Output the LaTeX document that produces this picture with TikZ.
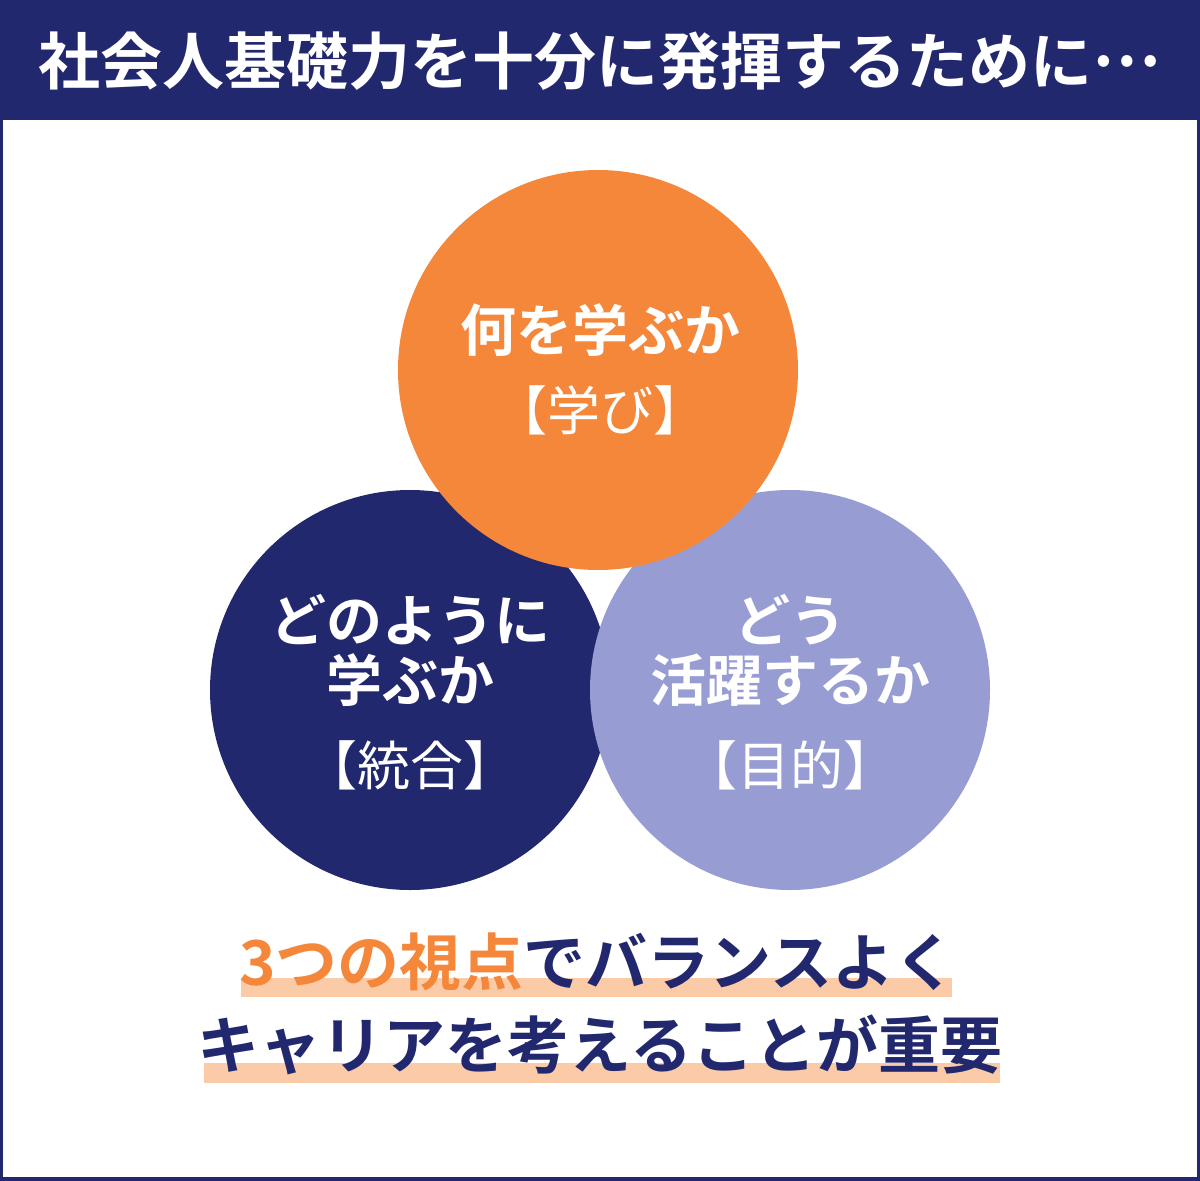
\documentclass[tikz,border=0pt]{standalone}
\usepackage{fontspec}
\setmainfont{Noto Sans CJK JP}[BoldFont={* Bold}]
\usepackage[outline]{contour}
\usetikzlibrary{positioning}
\definecolor{cNavy}{HTML}{22286E}
\definecolor{cOrange}{HTML}{F5873A}
\definecolor{cLavender}{HTML}{979DD3}
\definecolor{cBand}{HTML}{FBCBA8}
\contourlength{3pt}
\tikzset{
  viewcircle/.style={
    circle, fill=#1, minimum size=400pt, inner sep=0pt
  },
  viewhead/.style={
    font=\fontsize{56}{64}\selectfont\bfseries, text=white,
    align=center, inner sep=0pt
  },
  viewtag/.style={
    font=\fontsize{53}{60}\selectfont, text=white, inner sep=0pt
  },
  closing/.style={
    font=\fontsize{62}{70}\selectfont\bfseries, text=cNavy, inner sep=0pt
  },
}

\begin{document}
\begin{tikzpicture}[x=1pt, y=-1pt]
\useasboundingbox (0,0) rectangle (1200,1181);

% ---- frame ----
\fill[cNavy] (0,0) rectangle (1200,1181);
\fill[white] (3,120) rectangle (1197,1177);
\node[font=\fontsize{62}{70}\selectfont\bfseries, text=white, inner sep=0pt]
  (title) at (600,61) {社会人基礎力を十分に発揮するために\raisebox{0.29em}{…}};

% ---- three views ----
\node[viewcircle=cNavy] (how) at (410,690) {};
\node[viewcircle=cLavender] (goal) at (790,690) {};
\node[viewcircle=cOrange] (what) at (598,370) {};

\node[viewhead] (whathead) at (600,330) {何を学ぶか};
\node[viewtag] (whattag) at (600,410) {【学び】};

\node[viewhead] (howhead) at (410,620) {どのように};
\node[viewhead, below=8pt of howhead] (howhead2) {学ぶか};
\node[viewtag] (howtag) at (410,765) {【統合】};

\node[viewhead] (goalhead) at (790,620) {どう};
\node[viewhead, below=8pt of goalhead] (goalhead2) {活躍するか};
\node[viewtag] (goaltag) at (790,765) {【目的】};

% ---- closing message ----
\fill[cBand] (241,978) rectangle (952,997);
\fill[cBand] (204,1063) rectangle (1000,1083);
\node[closing] (msg1) at (598,962)
  {\contour{white}{\textcolor{cOrange}{3つの視点}}でバランスよく};
\node[closing] (msg2) at (600,1045) {キャリアを考えることが重要};

\end{tikzpicture}
\end{document}
